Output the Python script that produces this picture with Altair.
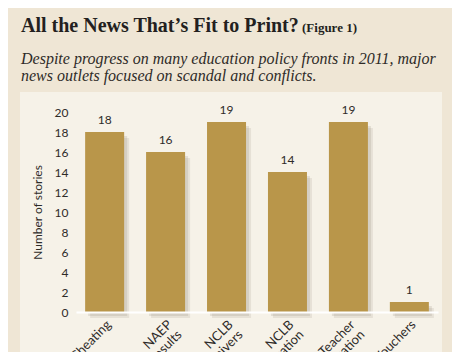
import altair as alt
import pandas as pd

categories = ["Cheating", "NAEP|Results", "NCLB|Waivers", "NCLB|Reauthorization", "Teacher|Evaluation", "Vouchers"]
stories = [18, 16, 19, 14, 19, 1]
y_ticks = [0, 2, 4, 6, 8, 10, 12, 14, 16, 18, 20]

title_text = "All the News That\u2019s Fit to Print?"
fig_text = "(Figure 1)"
subtitle_lines = ["Despite progress on many education policy fronts in 2011, major",
                  "news outlets focused on scandal and conflicts."]

df = pd.DataFrame({"cat": categories, "n": stories})

W, H = 362, 200
L, T = 68, 104

SANS = "Lato"
SERIF = "Liberation Serif"

xenc = alt.X("cat:N", sort=categories,
             scale=alt.Scale(paddingInner=0.36, paddingOuter=0.15),
             axis=alt.Axis(title=None, labelAngle=-45, labelAlign="right", labelBaseline="top",
                           labelExpr="split(datum.label, '|')", labelFont=SANS, labelFontSize=13,
                           labelColor="#2e2b28", labelPadding=6, ticks=False, zindex=1,
                           domainColor="white", domainWidth=2, labelLineHeight=14))
yenc = alt.Y("n:Q", scale=alt.Scale(domain=[0, 20], nice=False),
             axis=alt.Axis(title="Number of stories", values=y_ticks, grid=False, ticks=False,
                           domain=False, labelFont=SANS, labelFontSize=12, labelColor="#2e2b28",
                           labelPadding=8, titleFont=SANS, titleFontSize=12, titleFontWeight="normal",
                           titleColor="#2e2b28", titlePadding=10, zindex=1))

panel = alt.Chart(pd.DataFrame({"a": [0]})).mark_rect(color="#f6f2e8").encode(
    x=alt.value(20 - 8 - L), x2=alt.value(442 - 8 - L),
    y=alt.value(92 - 8 - T), y2=alt.value(400))

shadow1 = alt.Chart(df).mark_bar(color="#8a8170", opacity=0.18, size=39, xOffset=3, yOffset=4).encode(
    x=xenc, y=yenc)
shadow2 = alt.Chart(df).mark_bar(color="#8a8170", opacity=0.15, size=39, xOffset=5, yOffset=6).encode(
    x=xenc, y=yenc)

bars = alt.Chart(df).mark_bar(color="#b9964a", size=39).encode(x=xenc, y=yenc)

labels = alt.Chart(df).mark_text(font=SANS, fontSize=12, color="#2e2b28", baseline="bottom", dy=-5).encode(
    x=xenc, y=yenc, text="n:Q")

title = alt.Chart(pd.DataFrame({"t": [title_text]})).mark_text(
    font=SERIF, fontSize=20, fontWeight="bold", color="#231f20", align="left", baseline="alphabetic").encode(
    x=alt.value(21 - 8 - L), y=alt.value(32 - 8 - T), text="t:N")
fig = alt.Chart(pd.DataFrame({"t": [fig_text]})).mark_text(
    font=SERIF, fontSize=13, fontWeight="bold", color="#231f20", align="left", baseline="alphabetic").encode(
    x=alt.value(302 - 8 - L), y=alt.value(32 - 8 - T), text="t:N")
sub1 = alt.Chart(pd.DataFrame({"t": [subtitle_lines[0]]})).mark_text(
    font=SERIF, fontSize=16, fontStyle="italic", color="#2e2b28", align="left", baseline="alphabetic").encode(
    x=alt.value(21 - 8 - L), y=alt.value(64 - 8 - T), text="t:N")
sub2 = alt.Chart(pd.DataFrame({"t": [subtitle_lines[1]]})).mark_text(
    font=SERIF, fontSize=16, fontStyle="italic", color="#2e2b28", align="left", baseline="alphabetic").encode(
    x=alt.value(21 - 8 - L), y=alt.value(81 - 8 - T), text="t:N")

chart = alt.layer(panel, shadow1, shadow2, bars, labels, title, fig, sub1, sub2).properties(
    width=W, height=H,
    autosize=alt.AutoSizeParams(type="none"),
    padding={"left": L, "top": T, "right": 14, "bottom": 40},
    background="#efe6d5",
).configure_view(stroke=None)

chart.save("out.html", embed_options={"renderer": "svg", "actions": False})
